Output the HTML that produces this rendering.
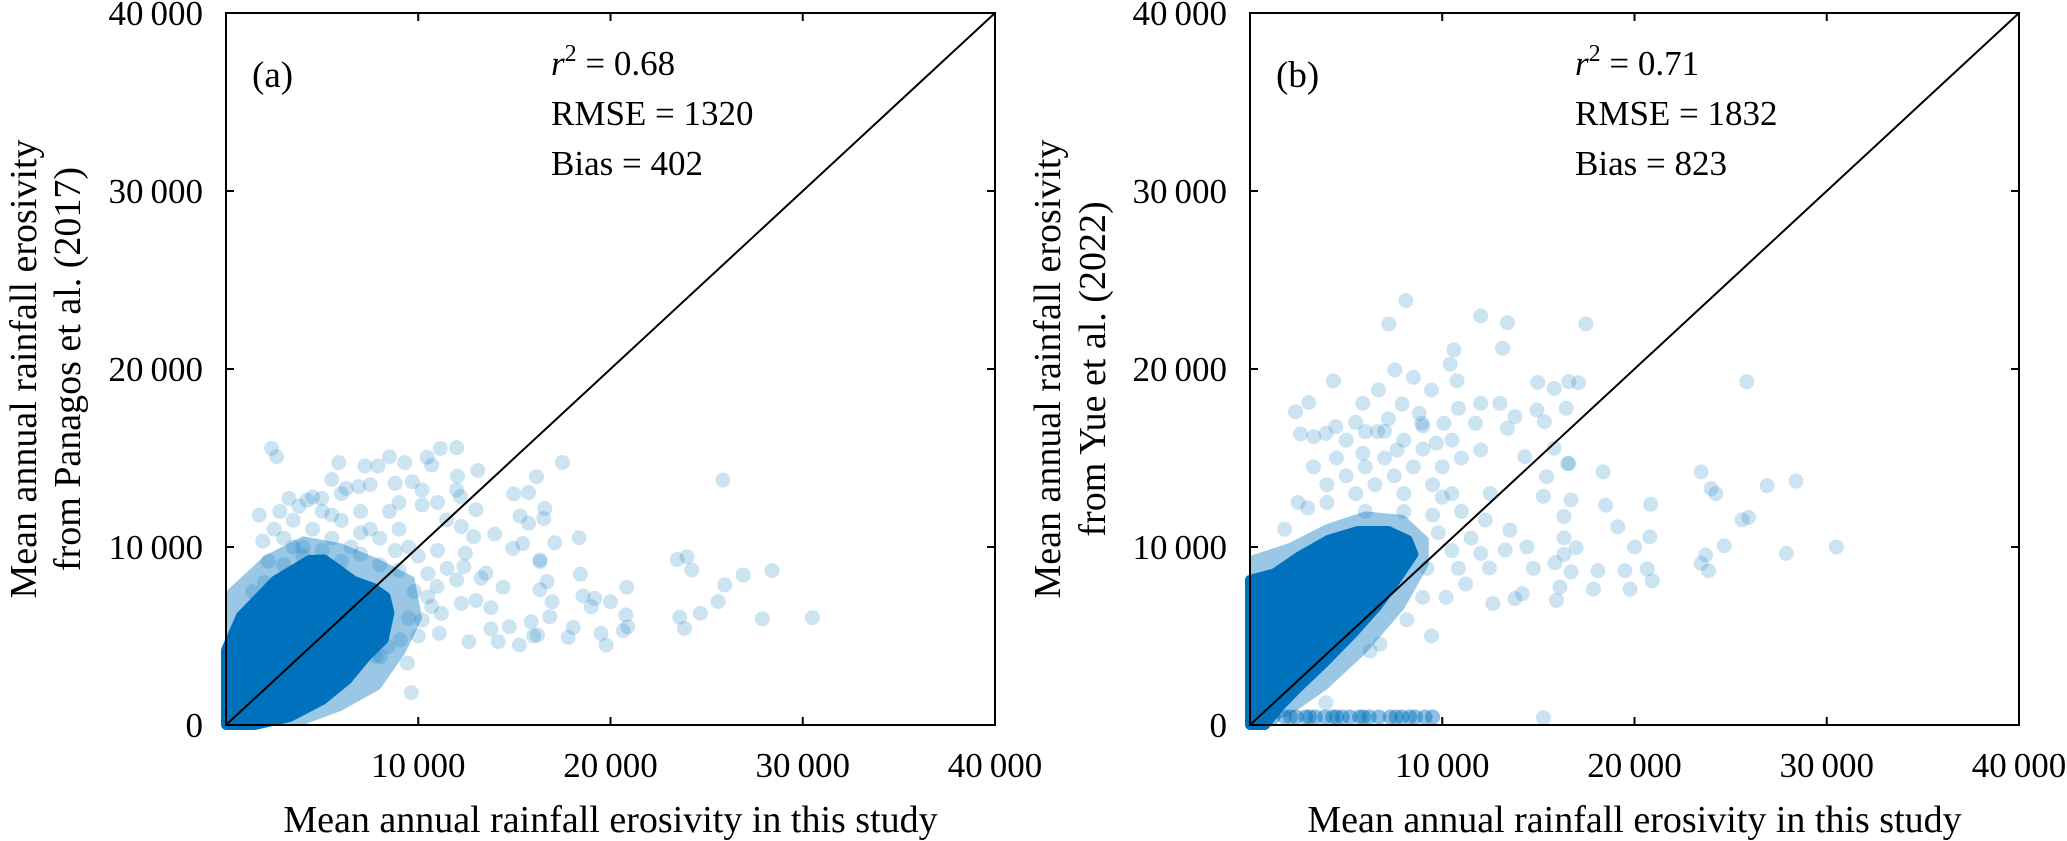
<!DOCTYPE html>
<html><head><meta charset="utf-8">
<style>
html,body{margin:0;padding:0;background:#fff;}
svg{display:block;}
svg text{font-family:"Liberation Serif","Times New Roman",serif;}
</style></head>
<body>
<svg id="chart" width="2067" height="841" viewBox="0 0 2067 841" xmlns="http://www.w3.org/2000/svg" font-family="Liberation Serif, serif"></svg>
<script>
// ---- data (thousands of MJ mm ha-1 h-1 yr-1) ----
const ticks = [0, 10, 20, 30, 40];
const tickLabels = ["0", "10\u2009000", "20\u2009000", "30\u2009000", "40\u2009000"];
const statsA = ["= 0.68", "RMSE = 1320", "Bias = 402"];
const statsB = ["= 0.71", "RMSE = 1832", "Bias = 823"];
// dense core outline (saturated region)
const coreA = [[0,0],[0,4.2],[0.77,6.1],[2.55,8.1],[4.34,9.27],[5.1,9.3],[5.87,8.7],[6.63,8.1],[7.65,7.7],[8.3,7.2],[8.5,6.3],[8.2,4.8],[7.3,3.84],[6.3,2.54],[5.0,1.4],[3.3,0.45],[1.5,0]];
const haloA = [[0,0],[0,7.5],[2,9.5],[4,10.6],[6,10.2],[8,9.3],[9.8,8.3],[10.2,6],[9.3,4],[8,2],[6,0.8],[4,0]];
const coreB = [[0,0],[0,8.15],[1.28,8.52],[2.55,9.46],[4.08,10.4],[5.6,10.9],[7.2,10.9],[8.2,10.4],[8.5,9.6],[7.6,8.15],[6.6,6.65],[5.36,5.15],[3.83,3.46],[2.55,2.15],[1.53,1.03],[0.77,0]];
const haloB = [[0,0],[0,9.5],[2,10.2],[4,11.3],[6,12],[8,11.8],[9.3,10.5],[9.3,9],[8,6.5],[6,4],[4,2],[2,0.5]];
// scattered points
const pointsA = [[2.37,15.54],[2.63,15.07],[5.87,14.74],[7.22,14.55],[7.9,14.55],[8.5,15.07],[9.3,14.74],[10.46,15.04],[11.15,15.54],[12.0,15.58],[10.7,14.6],[12.04,13.99],[13.1,14.3],[17.5,14.75],[16.15,13.95],[14.97,12.98],[15.74,13.06],[16.58,12.17],[15.3,11.74],[15.74,11.33],[16.53,11.6],[13.0,12.1],[25.84,13.76],[18.37,10.52],[17.1,10.24],[16.33,9.27],[23.47,9.3],[23.98,9.45],[24.23,8.71],[26.9,8.43],[28.4,8.67],[25.94,7.87],[25.6,6.93],[24.67,6.28],[23.6,6.05],[23.85,5.43],[27.9,5.96],[30.5,6.03],[18.44,8.47],[16.7,8.06],[16.33,7.6],[16.96,6.93],[18.57,7.25],[19.18,7.12],[20.0,6.93],[20.84,7.74],[19.0,6.64],[20.8,6.18],[20.9,5.52],[20.66,5.3],[19.5,5.15],[19.77,4.49],[18.06,5.48],[17.8,4.92],[16.0,5.0],[16.2,5.05],[15.87,5.8],[16.84,6.08],[15.26,4.49],[14.74,5.52],[13.78,5.39],[14.16,4.68],[12.63,4.68],[13.78,6.59],[14.41,7.74],[13.27,8.25],[13.52,8.53],[16.33,9.18],[15.43,10.2],[14.92,9.92],[13.98,10.73],[12.88,10.58],[9.64,1.82],[9.44,3.47],[8.04,3.84],[7.78,3.87],[1.91,10.33],[1.73,11.79],[1.4,7.5],[3.27,12.73],[4.21,12.63],[4.97,12.73],[6.25,13.29],[6.89,13.39],[8.8,13.58],[9.69,13.67],[10.2,13.2],[12.0,13.2],[12.2,12.83],[10.2,12.36],[11.48,11.52],[12.24,11.15],[12.45,9.65],[12.37,8.9],[12.0,8.15],[10.97,7.78],[10.7,6.65],[11.2,6.27],[10.2,5.9],[11.1,5.15],[12.24,6.83],[13.0,7.0],[9.06,4.78],[8.42,4.4],[2.5,11],[3,10.5],[3.5,11.5],[4,10],[4.5,11],[5,12],[5.5,10.5],[6,11.5],[6.5,10],[7,12],[7.5,11],[8,10.5],[8.5,12],[9,11],[9.5,10],[3,9],[4,9.5],[5,9.8],[6,9.2],[7,9.6],[8,9],[9,8.7],[10,9.5],[10.5,8.5],[11,9.8],[2,8],[2.8,12],[3.8,12.3],[6,13],[7.5,13.5],[9,12.5],[11,12.5],[5.5,13.8],[4.5,12.8],[2.2,9.2],[3.5,10],[5.5,11.8],[7,10.8],[8.8,9.8],[9.8,7.5],[10.5,7.2],[11.5,8.8],[9.5,6],[10,5]];
const pointsB = [[8.11,23.84],[7.22,22.53],[12.0,22.99],[13.39,22.6],[17.47,22.53],[10.61,21.07],[13.14,21.16],[10.41,20.27],[7.53,19.95],[8.5,19.53],[4.34,19.33],[10.77,19.34],[14.97,19.25],[15.82,18.91],[16.58,19.29],[17.09,19.23],[25.84,19.29],[6.68,18.82],[9.44,18.82],[3.06,18.12],[2.37,17.6],[5.87,18.07],[7.91,18.03],[12.0,18.07],[13.0,18.07],[14.92,17.7],[16.45,17.79],[10.84,17.79],[2.63,16.35],[3.32,16.2],[4.46,16.76],[3.95,16.38],[6.0,16.48],[6.63,16.48],[8.93,16.95],[10.08,16.95],[11.73,16.95],[13.78,17.32],[15.31,17.04],[5.87,15.26],[7.65,15.45],[9.69,15.83],[12.0,15.45],[13.39,16.67],[15.82,15.55],[14.29,15.07],[16.58,14.69],[18.37,14.22],[23.47,14.22],[23.98,13.28],[24.23,13.0],[26.9,13.44],[28.4,13.7],[25.94,11.66],[25.6,11.52],[24.67,10.07],[23.7,9.55],[23.47,9.08],[23.85,8.66],[27.9,9.64],[30.5,10.0],[20.84,12.4],[18.5,12.35],[19.13,11.13],[20.8,10.57],[20.0,10.0],[20.66,8.76],[20.92,8.1],[19.5,8.67],[19.77,7.63],[18.1,8.67],[17.86,7.63],[16.33,11.71],[16.7,12.65],[16.33,10.52],[16.96,9.96],[16.33,9.58],[15.87,9.12],[16.7,8.6],[16.12,7.75],[15.94,7.0],[15.26,12.85],[15.43,13.95],[16.53,14.69],[14.74,8.8],[13.78,7.1],[14.16,7.38],[12.63,6.82],[12.45,8.82],[14.41,10.0],[13.52,10.95],[13.27,9.83],[11.22,7.92],[10.2,7.17],[10.84,8.8],[8.98,7.17],[8.16,5.91],[9.44,5.0],[6.76,4.54],[6.25,4.16],[3.95,1.25],[15.26,0.41],[12.0,9.64],[12.24,11.52],[12.5,13.0],[3.3,14.5],[4,13.5],[4.5,15],[5,14],[5.5,13],[6,14.5],[6.5,13.5],[7,15],[7.5,14],[8,13],[8.5,14.5],[9,15.5],[9.5,13.5],[10,14.5],[10.5,13],[11,15],[5,16],[7,16.5],[8,16],[9,16.8],[10.5,16],[4,12.5],[6,12],[8,12],[9.5,11.8],[11,12],[3,12.2],[7.2,17.2],[8.8,17.5],[5.5,17],[9.8,10.8],[10.5,9.8],[11.5,10.5],[9.2,8.8],[10,12.8],[1.8,11],[2.5,12.5]];
const bandB = [[0.5,0.45],[1.2,0.45],[1.8,0.45],[2.4,0.45],[2.9,0.45],[3.4,0.45],[3.9,0.45],[4.3,0.45],[4.8,0.45],[5.2,0.45],[5.7,0.45],[6.2,0.45],[6.7,0.45],[7.3,0.45],[7.6,0.45],[8.3,0.45],[8.6,0.45],[9.1,0.45],[9.5,0.45],[2.1,0.45],[3.1,0.45],[4.5,0.45],[5.9,0.45],[7.9,0.45]];

// ---- layout ----
const panels = [
  {id:"a", left:226, right:995, top:13, bottom:725, core:coreA, halo:haloA, pts:pointsA, band:[], label:"(a)", stats:statsA,
   yTitle:["Mean annual rainfall erosivity","from Panagos et al. (2017)"], yTitleX:[24,68]},
  {id:"b", left:1250, right:2019, top:13, bottom:725, core:coreB, halo:haloB, pts:pointsB, band:bandB, label:"(b)", stats:statsB,
   yTitle:["Mean annual rainfall erosivity","from Yue et al. (2022)"], yTitleX:[1048,1093]}
];
const NS = "http://www.w3.org/2000/svg";
const svg = document.getElementById("chart");
const BLUE = "#0072BD";
const FF = "Liberation Serif, Times New Roman, serif";
function mk(tag, attrs, parent){
  const e = document.createElementNS(NS, tag);
  for (const k in attrs) e.setAttribute(k, attrs[k]);
  if (tag === "text") e.setAttribute("font-family", FF);
  (parent||svg).appendChild(e);
  return e;
}
panels.forEach(p => {
  const sx = v => p.left + (v/40)*(p.right-p.left);
  const sy = v => p.bottom - (v/40)*(p.bottom-p.top);
  const g = mk("g", {});
  
  
  const poly = arr => arr.map(d => sx(d[0]).toFixed(1)+","+sy(d[1]).toFixed(1)).join(" ");
  const halo = mk("polygon", {points:poly(p.halo), fill:BLUE, "fill-opacity":0.4, stroke:"none"}, g);
  
  
  const core = mk("polygon", {points:poly(p.core), fill:BLUE, stroke:BLUE, "stroke-width":10, "stroke-linejoin":"round"}, g);
  
  
  p.band.forEach(d => {
    const c = mk("circle", {cx:sx(d[0]), cy:sy(d[1]), r:7.5, fill:BLUE, "fill-opacity":0.45}, g);
    
    
  });
  p.pts.forEach(d => {
    const c = mk("circle", {cx:sx(d[0]), cy:sy(d[1]), r:7.5, fill:BLUE, "fill-opacity":0.2}, g);
    
    
  });
  const line = mk("line", {x1:sx(0), y1:sy(0), x2:sx(40), y2:sy(40), stroke:"#000", "stroke-width":2}, g);
  
  
  const box = mk("rect", {x:p.left, y:p.top, width:p.right-p.left, height:p.bottom-p.top, fill:"none", stroke:"#000", "stroke-width":2}, g);
  
  
  ticks.forEach((t,i) => {
    const x = sx(t), y = sy(t);
    if (i>0 && i<ticks.length-1){
      mk("line",{x1:x,y1:p.bottom,x2:x,y2:p.bottom-8,stroke:"#000","stroke-width":2},g);
      mk("line",{x1:x,y1:p.top,x2:x,y2:p.top+8,stroke:"#000","stroke-width":2},g);
      mk("line",{x1:p.left,y1:y,x2:p.left+8,y2:y,stroke:"#000","stroke-width":2},g);
      mk("line",{x1:p.right,y1:y,x2:p.right-8,y2:y,stroke:"#000","stroke-width":2},g);
    }
    const yl = mk("text",{x:p.left-23, y:y+12, "text-anchor":"end", "font-size":35},g);
    yl.textContent = tickLabels[i];
    
    
    if (i>0){
      const xl = mk("text",{x:x, y:p.bottom+52, "text-anchor":"middle", "font-size":35},g);
      xl.textContent = tickLabels[i];
      
      
    }
  });
  const lab = mk("text",{x:p.left+26, y:p.top+74, "font-size":37},g);
  lab.textContent = p.label;
  
  
  const st = mk("text",{x:p.left+325, y:p.top+62, "font-size":35},g);
  
  
  const ri = mk("tspan",{"font-style":"italic"},st); ri.textContent = "r";
  const rs = mk("tspan",{dy:-14, "font-size":24},st); rs.textContent = "2";
  const rv = mk("tspan",{dy:14},st); rv.textContent = " " + p.stats[0];
  [1,2].forEach(k => {
    const t = mk("text",{x:p.left+325, y:p.top+62+50*k, "font-size":35},g);
    t.textContent = p.stats[k];
    
    
  });
  const xt = mk("text",{x:(p.left+p.right)/2, y:832, "text-anchor":"middle", "font-size":38},g);
  xt.textContent = "Mean annual rainfall erosivity in this study";
  
  
  p.yTitle.forEach((s,k) => {
    const cx = p.yTitleX[k] + 12, cy = 369;
    const t = mk("text",{x:cx, y:cy, "text-anchor":"middle", "font-size":38, transform:`rotate(-90 ${cx} ${cy})`},g);
    t.textContent = s;
    
    
  });
});
</script>
</body></html>
